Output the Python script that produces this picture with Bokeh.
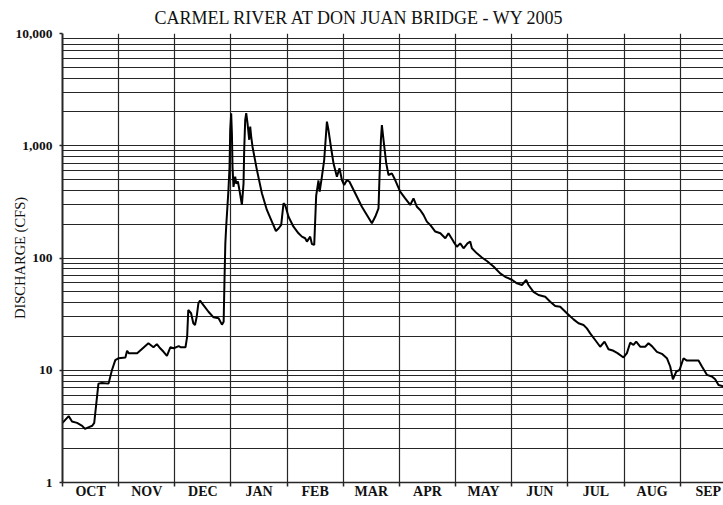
from bokeh.plotting import figure
from bokeh.models import FixedTicker, Range1d
from bokeh.embed import file_html
from bokeh.resources import INLINE

# ---------------- data ----------------
months = ["OCT", "NOV", "DEC", "JAN", "FEB", "MAR",
          "APR", "MAY", "JUN", "JUL", "AUG", "SEP"]
decade_ticks = [1, 10, 100, 1000, 10000]
decade_labels = ["1", "10", "100", "1,000", "10,000"]

# position along the water year in months (0 = 1 Oct, 12 = 30 Sep)
month_pos = [
    0.00, 0.11, 0.17, 0.26, 0.35, 0.40, 0.46, 0.53, 0.565, 0.595,
    0.64, 0.70, 0.82, 0.88, 0.94, 1.00, 1.12, 1.15, 1.18, 1.33,
    1.41, 1.53, 1.62, 1.68, 1.74, 1.80, 1.86, 1.92, 1.98, 2.07,
    2.11, 2.19, 2.22, 2.24, 2.29, 2.33, 2.36, 2.39, 2.42, 2.45,
    2.51, 2.60, 2.69, 2.78, 2.84, 2.87, 2.885, 2.90, 2.915, 2.955,
    2.975, 2.987, 3.004, 3.017, 3.028, 3.045, 3.076, 3.094, 3.124, 3.152,
    3.195, 3.224, 3.236, 3.254, 3.272, 3.295, 3.325, 3.343, 3.361, 3.384,
    3.462, 3.551, 3.640, 3.729, 3.801, 3.851, 3.895, 3.936, 3.966, 4.025,
    4.114, 4.203, 4.264, 4.322, 4.353, 4.411, 4.442, 4.483, 4.518, 4.559,
    4.58, 4.620, 4.661, 4.709, 4.737, 4.780, 4.826, 4.887, 4.933, 4.976,
    5.017, 5.065, 5.111, 5.213, 5.332, 5.421, 5.510, 5.569, 5.628, 5.646,
    5.671, 5.688, 5.717, 5.765, 5.806, 5.866, 5.925, 6.014, 6.103, 6.193,
    6.251, 6.312, 6.370, 6.429, 6.489, 6.549, 6.639, 6.729, 6.818, 6.874,
    6.964, 7.024, 7.083, 7.142, 7.213, 7.261, 7.291, 7.380, 7.469, 7.558,
    7.676, 7.795, 7.884, 8.004, 8.093, 8.182, 8.258, 8.299, 8.388, 8.477,
    8.597, 8.686, 8.775, 8.864, 8.983, 9.101, 9.190, 9.279, 9.339, 9.398,
    9.487, 9.576, 9.653, 9.724, 9.813, 9.884, 9.991, 10.052, 10.110, 10.169,
    10.217, 10.288, 10.377, 10.436, 10.497, 10.586, 10.675, 10.764, 10.823, 10.871,
    10.930, 10.989, 11.060, 11.120, 11.327, 11.388, 11.476, 11.565, 11.624, 11.683,
    11.767, 11.85,
]

# daily discharge in cubic feet per second
discharge_cfs = [
    3.4, 3.9, 3.5, 3.4, 3.2, 3.0, 3.1, 3.2, 3.4, 4.7,
    7.6, 7.7, 7.6, 10.0, 12.3, 12.8, 13.0, 14.9, 14.2, 14.2,
    15.4, 17.4, 16.0, 17.1, 15.7, 14.6, 13.4, 16.0, 15.7, 16.4,
    16.0, 16.0, 19.9, 34.4, 32.2, 26.2, 25.3, 30.0, 39.5, 41.7,
    38.1, 33.2, 29.6, 29.0, 25.5, 27.0, 64.0, 135, 190, 400,
    650, 1380, 1950, 1290, 650, 430, 530, 460, 480, 400,
    297, 460, 920, 1700, 1950, 1590, 1130, 1480, 1200, 980,
    610, 377, 268, 211, 174, 184, 197, 307, 297, 233,
    190, 166, 155, 150, 140, 155, 133, 131, 360, 490,
    390, 530, 750, 1640, 1380, 980, 700, 530, 630, 495,
    447, 495, 478, 377, 286, 242, 204, 233, 277, 530,
    1130, 1530, 1130, 700, 549, 568, 495, 390, 340, 297,
    340, 286, 268, 242, 211, 197, 172, 166, 150, 166,
    140, 126, 135, 122, 135, 140, 122, 110, 101, 94,
    84, 73, 68, 64, 59.5, 57.5, 63.7, 57.5, 50, 46.8,
    45.2, 40.8, 37.3, 36.8, 32.2, 28.4, 26.2, 25.3, 23.6, 21.3,
    18.6, 16.2, 18.0, 15.4, 14.9, 14.2, 13.0, 14.2, 17.6, 16.8,
    18.0, 16.2, 16.2, 17.4, 16.4, 14.6, 14.0, 12.8, 10.8, 8.3,
    9.7, 10.05, 12.8, 12.2, 12.2, 10.8, 9.1, 8.8, 8.3, 7.4,
    7.2, 7.2,
]

# ---------------- figure ----------------
GRID = "#262626"
SERIF = "Liberation Serif"

W, H = 723, 505
LEFT, TOP, BOTTOM = 62, 33, 23
month_px = 56.15
x_end = (W - LEFT) / month_px

p = figure(width=W, height=H, y_axis_type="log",
           x_range=Range1d(0, x_end), y_range=Range1d(1, 10000),
           output_backend="svg", toolbar_location=None,
           min_border_left=LEFT, min_border_right=0,
           min_border_top=TOP, min_border_bottom=BOTTOM)
p.background_fill_color = "white"
p.border_fill_color = "white"
p.outline_line_color = None

p.title.text = "CARMEL RIVER AT DON JUAN BRIDGE - WY 2005"
p.title.align = "left"
p.title.offset = 92
p.title.vertical_align = "bottom"
p.title.standoff = 11
p.title.text_font = SERIF
p.title.text_font_size = "18px"
p.title.text_font_style = "normal"
p.title.text_color = "#111111"

# x axis: month names centred in each month, ticks at month boundaries
month_mid = [i + 0.5 for i in range(len(months))]
month_edges = list(range(len(months) + 1))
p.xaxis.ticker = FixedTicker(ticks=month_mid, minor_ticks=month_edges)
p.xaxis.major_label_overrides = {m: lab for m, lab in zip(month_mid, months)}
p.xaxis.major_tick_line_color = None
p.xaxis.major_tick_in = 0
p.xaxis.major_tick_out = 0
p.xaxis.minor_tick_in = 0
p.xaxis.minor_tick_out = 4
p.xaxis.minor_tick_line_color = GRID
p.xaxis.minor_tick_line_width = 1.5
p.xaxis.axis_line_color = GRID
p.xaxis.axis_line_width = 1.5
p.xaxis.major_label_standoff = -3
p.xaxis.major_label_text_font = SERIF
p.xaxis.major_label_text_font_size = "14px"
p.xaxis.major_label_text_font_style = "bold"
p.xaxis.major_label_text_color = "#111111"

# y axis: log decades
minor_y = [m * 10 ** d for d in range(4) for m in range(2, 10)]
yticker = FixedTicker(ticks=decade_ticks, minor_ticks=minor_y)
p.yaxis.ticker = yticker
p.yaxis.major_label_overrides = {t: lab for t, lab in zip(decade_ticks, decade_labels)}
p.yaxis.minor_tick_line_color = None
p.yaxis.major_tick_in = 0
p.yaxis.major_tick_out = 3
p.yaxis.major_tick_line_color = GRID
p.yaxis.major_tick_line_width = 1.5
p.yaxis.axis_line_color = GRID
p.yaxis.axis_line_width = 2
p.yaxis.major_label_standoff = 6
p.yaxis.major_label_text_font = SERIF
p.yaxis.major_label_text_font_size = "13.5px"
p.yaxis.major_label_text_font_style = "bold"
p.yaxis.major_label_text_color = "#111111"
p.yaxis.axis_label = "DISCHARGE (CFS)"
p.yaxis.axis_label_standoff = -16
p.yaxis.axis_label_text_font = SERIF
p.yaxis.axis_label_text_font_size = "14.5px"
p.yaxis.axis_label_text_font_style = "normal"
p.yaxis.axis_label_text_color = "#111111"

# grids
p.xgrid.ticker = FixedTicker(ticks=month_edges)
p.xgrid.grid_line_color = GRID
p.xgrid.grid_line_width = 1.2
p.ygrid.ticker = yticker
p.ygrid.grid_line_color = GRID
p.ygrid.grid_line_width = 1.2
p.ygrid.minor_grid_line_color = GRID
p.ygrid.minor_grid_line_width = 1.2

p.line(month_pos, discharge_cfs, line_color="black", line_width=2)

open("out.html", "w").write(file_html(p, INLINE))
